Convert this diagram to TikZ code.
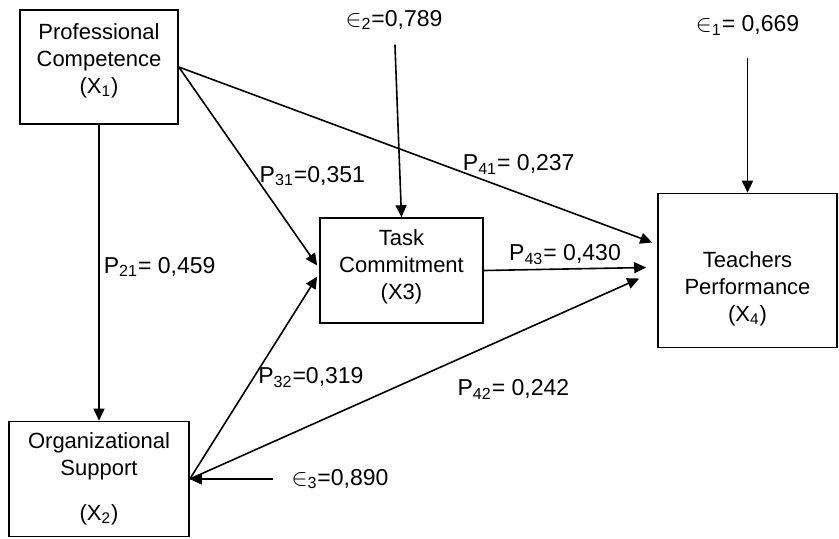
\documentclass[tikz,border=0pt]{standalone}
\usepackage{fontspec}
\setmainfont{Liberation Sans}
\usetikzlibrary{arrows.meta}

\begin{document}
\begin{tikzpicture}
                [
                    x=0.5pt,
                    y=-0.5pt,
                    -{Triangle[length=6pt,width=5.5pt]},
                    line width=0.8pt,
                    construct/.style={draw, inner sep=0pt, align=center,
                        font=\fontsize{11}{13.5}\selectfont},
                    error term/.style={inner sep=2pt,
                        font=\fontsize{11.5}{14}\selectfont},
                    path coef/.style={inner sep=2pt,
                        font=\fontsize{11.5}{14}\selectfont}
                ]
                \useasboundingbox (0,0) rectangle (839,538);

                \node (x1)
                    [construct, minimum width=79pt, minimum height=57pt]
                    at (99,67)
                    {Professional\\Competence\\(X\textsubscript{1})\\[-4.7pt]\mbox{}};

                \node (x2)
                    [construct, below of=x1, node distance=206pt,
                        minimum width=90pt, minimum height=57.5pt]
                    {Organizational\\Support\\[9pt](X\textsubscript{2})};

                \node (x3)
                    [construct, minimum width=81.5pt, minimum height=52.5pt]
                    at (401.5,270.5)
                    {Task\\Commitment\\(X3)\\[-7.7pt]\mbox{}};

                \node (x4)
                    [construct, right of=x3, node distance=173pt,
                        minimum width=89.5pt, minimum height=77pt]
                    {\mbox{}\\[12.5pt]Teachers\\Performance\\(X\textsubscript{4})};

                \node (eps 1)
                    [error term, above of=x4, node distance=122.5pt]
                    {$\in$\textsubscript{1}= 0,669};

                \node (eps 2)
                    [error term]
                    at (394,20)
                    {$\in$\textsubscript{2}=0,789};

                \node (eps 3)
                    [error term, right of=x2, node distance=120.5pt]
                    {$\in$\textsubscript{3}=0,890};

                \path
                (x1.south) edge node [path coef, right, pos=0.48]
                    {P\textsubscript{21}= 0,459} (x1.south |- x2.north)
                (x1.east) edge node [path coef, anchor=west, pos=0.55]
                    {P\textsubscript{31}=0,351} ([shift={(-2,-5)}]x3.west)
                (x1.east) edge node [path coef, anchor=base west, pos=0.59]
                    {P\textsubscript{41}= 0,237} ([shift={(-5,-28)}]x4.west)
                (x2.east) edge node [path coef, anchor=west, pos=0.5]
                    {P\textsubscript{32}=0,319} ([shift={(-2,6)}]x3.west)
                (x3.east) edge node [path coef, anchor=south, pos=0.5]
                    {P\textsubscript{43}= 0,430} ([shift={(-11,-3)}]x4.west)
                (x2.east) edge node [path coef, pos=0.72, yshift=-27.5pt]
                    {P\textsubscript{42}= 0,242} ([shift={(-18,8)}]x4.west)
                ;

                \path
                (eps 1) edge [shorten <=9pt] (x4.north)
                (eps 2) edge [shorten <=5pt] (x3.north)
                ([shift={(-14,0)}]eps 3.west) edge (x2.east)
                ;

            \end{tikzpicture}
\end{document}
